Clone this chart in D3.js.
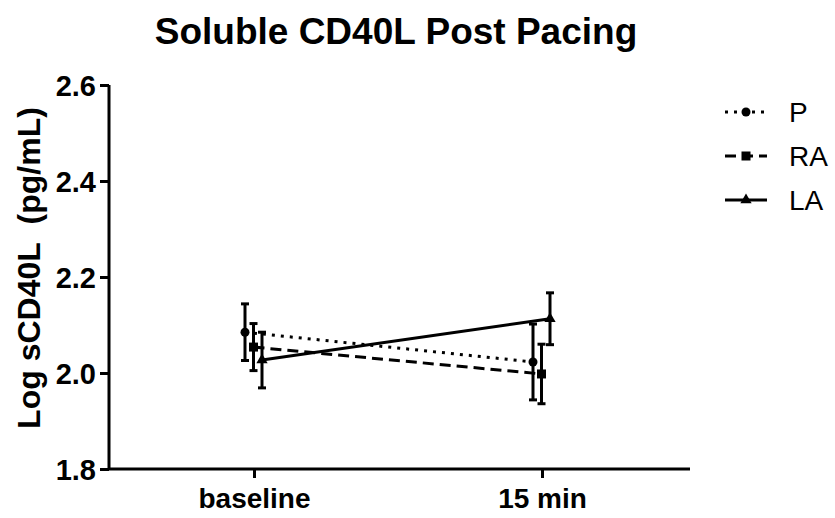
<!doctype html>
<html>
<head>
<meta charset="UTF-8">
<title>Soluble CD40L Post Pacing</title>
<script src="https://d3js.org/d3.v7.min.js"></script>
<style>
  body { margin: 0; background: #fff; }
  text { font-family: "Liberation Sans", Arial, sans-serif; fill: #000; }
</style>
</head>
<body>
<svg id="chart" width="835" height="518"></svg>
<script>
// data
var timepoints = ["baseline", "15 min"];
var seriesNames = ["P", "RA", "LA"];
var meanP  = [2.085, 2.023];
var meanRA = [2.054, 1.998];
var meanLA = [2.027, 2.113];
var errP  = [0.059, 0.079];
var errRA = [0.049, 0.062];
var errLA = [0.058, 0.054];
var yTicks = [1.8, 2.0, 2.2, 2.4, 2.6];

var series = [
  { name: "P",  mean: meanP,  err: errP,  dash: "3,6",  marker: "circle" },
  { name: "RA", mean: meanRA, err: errRA, dash: "11,6", marker: "square" },
  { name: "LA", mean: meanLA, err: errLA, dash: null,   marker: "triangle" }
];

var svg = d3.select("#chart");

var x = d3.scalePoint().domain(timepoints).range([110, 686]).padding(0.5);
var dodge = d3.scalePoint().domain(seriesNames).range([-9, 8]);
var y = d3.scaleLinear().domain([1.8, 2.6]).range([469, 85]);

// title
svg.append("text")
  .attr("x", 396).attr("y", 44)
  .attr("text-anchor", "middle")
  .style("font-size", "37px").style("font-weight", "bold")
  .text("Soluble CD40L Post Pacing");

// y axis
var yAxis = svg.append("g")
  .attr("transform", "translate(109,0)")
  .call(d3.axisLeft(y).tickValues(yTicks).tickFormat(d3.format(".1f")).tickSize(9).tickPadding(4));
yAxis.select(".domain").attr("stroke-width", 3).attr("d", "M0," + y(1.8) + "V" + y(2.6));
yAxis.selectAll(".tick line").attr("stroke-width", 3);
yAxis.selectAll(".tick text")
  .attr("dy", "0.36em")
  .style("font-size", "29px").style("font-weight", "bold")
  .style("font-family", "'Liberation Sans', Arial, sans-serif");

// x axis
var xAxis = svg.append("g")
  .attr("transform", "translate(0," + y(1.8) + ")")
  .call(d3.axisBottom(x).tickSize(9).tickPadding(10));
xAxis.select(".domain").attr("stroke-width", 3).attr("d", "M108,0H690");
xAxis.selectAll(".tick line").attr("stroke-width", 3);
xAxis.selectAll(".tick text")
  .style("font-size", "28px").style("font-weight", "bold")
  .style("font-family", "'Liberation Sans', Arial, sans-serif");

// y label
svg.append("text")
  .attr("transform", "translate(40,268) rotate(-90)")
  .attr("text-anchor", "middle")
  .style("font-size", "32px").style("font-weight", "bold")
  .text("Log sCD40L\u00a0 (pg/mL)");

function drawMarker(g, type, cx, cy) {
  if (type === "circle") {
    g.append("circle").attr("cx", cx).attr("cy", cy).attr("r", 4.5).attr("fill", "#000");
  } else if (type === "square") {
    g.append("rect").attr("x", cx - 4.5).attr("y", cy - 4.5).attr("width", 9).attr("height", 9).attr("fill", "#000");
  } else {
    g.append("path").attr("d", d3.symbol().type(d3.symbolTriangle).size(55)()).attr("transform", "translate(" + cx + "," + cy + ")").attr("fill", "#000");
  }
}

var plot = svg.append("g");
series.forEach(function(s) {
  var g = plot.append("g");
  var line = d3.line()
    .x(function(d, i) { return x(timepoints[i]) + dodge(s.name); })
    .y(function(d) { return y(d); });
  g.append("path")
    .datum(s.mean)
    .attr("d", line)
    .attr("fill", "none").attr("stroke", "#000").attr("stroke-width", 3)
    .attr("stroke-dasharray", s.dash);

  s.mean.forEach(function(m, i) {
    var cx = x(timepoints[i]) + dodge(s.name);
    var top = y(m + s.err[i]), bot = y(m - s.err[i]);
    g.append("line").attr("x1", cx).attr("x2", cx).attr("y1", top).attr("y2", bot)
      .attr("stroke", "#000").attr("stroke-width", 3);
    [top, bot].forEach(function(cy) {
      g.append("line").attr("x1", cx - 4).attr("x2", cx + 4).attr("y1", cy).attr("y2", cy)
        .attr("stroke", "#000").attr("stroke-width", 3);
    });
    drawMarker(g, s.marker, cx, y(m));
  });
});

// legend
var legY = d3.scalePoint().domain(seriesNames).range([112, 200]);
series.forEach(function(s) {
  var g = svg.append("g");
  var ly = legY(s.name);
  g.append("line").attr("x1", 725).attr("x2", 767).attr("y1", ly).attr("y2", ly)
    .attr("stroke", "#000").attr("stroke-width", 3).attr("stroke-dasharray", s.dash);
  drawMarker(g, s.marker, 746, ly);
  g.append("text").attr("x", 789).attr("y", ly).attr("dy", "0.36em")
    .style("font-size", "28px").text(s.name);
});
</script>
</body>
</html>
